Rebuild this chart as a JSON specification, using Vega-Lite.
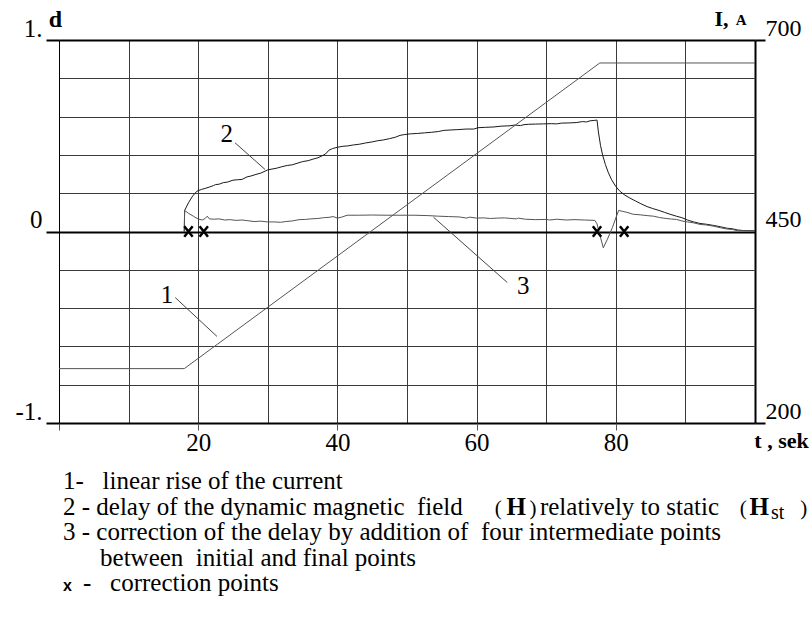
{
  "$schema": "https://vega.github.io/schema/vega-lite/v6.json",
  "width": 696,
  "height": 383,
  "autosize": {"type": "none"},
  "padding": {"left": 59, "top": 40, "right": 56, "bottom": 201},
  "background": "white",
  "config": {"view": {"stroke": null}},
  "datasets": {
    "current": [
      {"t": 0, "I": 271}, {"t": 18, "I": 271}, {"t": 77.7, "I": 670}, {"t": 100, "I": 670}
    ],
    "delay": [
      {"t":18,"d":0},{"t":18.05,"d":0.11},{"t":18.6,"d":0.15},{"t":19.2,"d":0.185},{"t":19.8,"d":0.21},{"t":20.5,"d":0.22},{"t":21,"d":0.225},{"t":21.6,"d":0.232},{"t":22.2,"d":0.24},{"t":22.5,"d":0.245},{"t":23,"d":0.247},{"t":23.6,"d":0.255},{"t":24.2,"d":0.258},{"t":25,"d":0.268},{"t":25.6,"d":0.27},{"t":26.3,"d":0.272},{"t":27,"d":0.285},{"t":27.6,"d":0.29},{"t":28.3,"d":0.298},{"t":29,"d":0.305},{"t":29.6,"d":0.315},{"t":30,"d":0.322},{"t":30.6,"d":0.326},{"t":31.2,"d":0.33},{"t":32,"d":0.338},{"t":32.8,"d":0.345},{"t":33.5,"d":0.348},{"t":34.2,"d":0.356},{"t":35,"d":0.365},{"t":35.8,"d":0.37},{"t":36.5,"d":0.378},{"t":37.2,"d":0.385},{"t":37.8,"d":0.395},{"t":38.3,"d":0.405},{"t":38.8,"d":0.425},{"t":39.3,"d":0.433},{"t":40,"d":0.44},{"t":40.8,"d":0.445},{"t":41.5,"d":0.447},{"t":42.3,"d":0.452},{"t":43.2,"d":0.456},{"t":44,"d":0.462},{"t":45,"d":0.468},{"t":45.8,"d":0.474},{"t":46.6,"d":0.478},{"t":47.5,"d":0.485},{"t":48.3,"d":0.492},{"t":49,"d":0.502},{"t":49.6,"d":0.506},{"t":50.5,"d":0.51},{"t":51.5,"d":0.512},{"t":52.5,"d":0.515},{"t":53.5,"d":0.518},{"t":54.5,"d":0.522},{"t":55.3,"d":0.528},{"t":56.2,"d":0.53},{"t":57.3,"d":0.532},{"t":58.5,"d":0.535},{"t":59.6,"d":0.535},{"t":60.2,"d":0.542},{"t":61.3,"d":0.544},{"t":62.5,"d":0.546},{"t":63.5,"d":0.55},{"t":64.8,"d":0.552},{"t":65.5,"d":0.556},{"t":66.3,"d":0.553},{"t":66.8,"d":0.558},{"t":67.5,"d":0.56},{"t":68.5,"d":0.561},{"t":69.6,"d":0.562},{"t":70.8,"d":0.563},{"t":71.5,"d":0.562},{"t":72.2,"d":0.566},{"t":73.3,"d":0.567},{"t":74.4,"d":0.569},{"t":75.2,"d":0.574},{"t":75.8,"d":0.572},{"t":76.3,"d":0.578},{"t":76.9,"d":0.58},{"t":77.3,"d":0.582},{"t":77.5,"d":0.52},{"t":77.8,"d":0.45},{"t":78.1,"d":0.4},{"t":78.5,"d":0.35},{"t":78.9,"d":0.31},{"t":79.4,"d":0.27},{"t":80,"d":0.235},{"t":80.6,"d":0.21},{"t":81.3,"d":0.19},{"t":82,"d":0.175},{"t":82.8,"d":0.16},{"t":83.6,"d":0.145},{"t":84.5,"d":0.13},{"t":85.3,"d":0.12},{"t":86.2,"d":0.11},{"t":87,"d":0.1},{"t":87.8,"d":0.09},{"t":88.7,"d":0.08},{"t":89.5,"d":0.072},{"t":90.3,"d":0.06},{"t":91.2,"d":0.05},{"t":92.1,"d":0.042},{"t":93,"d":0.038},{"t":94,"d":0.032},{"t":95,"d":0.025},{"t":96,"d":0.017},{"t":96.8,"d":0.014},{"t":97.5,"d":0.008},{"t":98.3,"d":0.005},{"t":100,"d":0.004}
    ],
    "correction": [
      {"t":18,"d":0},{"t":18.05,"d":0.11},{"t":18.6,"d":0.095},{"t":19.3,"d":0.08},{"t":20,"d":0.065},{"t":20.6,"d":0.06},{"t":21,"d":0.068},{"t":21.3,"d":0.08},{"t":21.6,"d":0.066},{"t":22.3,"d":0.064},{"t":23,"d":0.066},{"t":23.8,"d":0.06},{"t":24.6,"d":0.062},{"t":25.4,"d":0.058},{"t":26.3,"d":0.06},{"t":27,"d":0.057},{"t":28,"d":0.052},{"t":29,"d":0.054},{"t":30,"d":0.05},{"t":31,"d":0.05},{"t":31.8,"d":0.048},{"t":32.6,"d":0.052},{"t":33.5,"d":0.055},{"t":34.5,"d":0.062},{"t":35.4,"d":0.063},{"t":36.2,"d":0.066},{"t":37.2,"d":0.068},{"t":38,"d":0.072},{"t":38.8,"d":0.074},{"t":39.4,"d":0.078},{"t":40,"d":0.07},{"t":40.6,"d":0.075},{"t":41.4,"d":0.085},{"t":43,"d":0.085},{"t":45,"d":0.086},{"t":47,"d":0.085},{"t":49,"d":0.085},{"t":51,"d":0.085},{"t":53,"d":0.083},{"t":54.5,"d":0.08},{"t":56,"d":0.078},{"t":57.5,"d":0.076},{"t":58.6,"d":0.07},{"t":59,"d":0.075},{"t":60,"d":0.07},{"t":61,"d":0.071},{"t":62,"d":0.068},{"t":63,"d":0.07},{"t":64,"d":0.071},{"t":65.7,"d":0.066},{"t":66,"d":0.07},{"t":67,"d":0.064},{"t":68.5,"d":0.062},{"t":70,"d":0.063},{"t":70.5,"d":0.06},{"t":71.5,"d":0.064},{"t":72.9,"d":0.06},{"t":74,"d":0.062},{"t":75.5,"d":0.06},{"t":77,"d":0.058},{"t":77.3,"d":0.04},{"t":77.8,"d":-0.03},{"t":78.2,"d":-0.085},{"t":78.8,"d":-0.04},{"t":79.5,"d":0.02},{"t":80.1,"d":0.08},{"t":80.4,"d":0.11},{"t":81,"d":0.105},{"t":81.6,"d":0.1},{"t":82.5,"d":0.09},{"t":83.5,"d":0.087},{"t":84.5,"d":0.083},{"t":85.4,"d":0.08},{"t":86.3,"d":0.073},{"t":87.2,"d":0.068},{"t":88,"d":0.065},{"t":88.7,"d":0.063},{"t":89.5,"d":0.055},{"t":90.3,"d":0.05},{"t":91.2,"d":0.045},{"t":92.1,"d":0.037},{"t":93,"d":0.034},{"t":94,"d":0.028},{"t":95,"d":0.02},{"t":95.8,"d":0.014},{"t":96.8,"d":0.01},{"t":97.5,"d":0.004},{"t":100,"d":0.004}
    ],
    "points": [
      {"t": 18.6, "d": 0}, {"t": 20.8, "d": 0}, {"t": 77.3, "d": 0}, {"t": 81.2, "d": 0}
    ],
    "labels": [
      {"t": 24.1, "d": 0.507, "label": "2"},
      {"t": 15.5, "d": -0.33, "label": "1"},
      {"t": 66.7, "d": -0.287, "label": "3"}
    ],
    "leaders": [
      {"t": 25.3, "d": 0.463, "t2": 29.6, "d2": 0.324},
      {"t": 16.7, "d": -0.345, "t2": 22.7, "d2": -0.548},
      {"t": 53.8, "d": 0.075, "t2": 64.4, "d2": -0.266}
    ],
    "unit": [{"text": "A"}],
    "legend": [
      {"line": 1, "part": "a", "text": "1-\u00a0\u00a0\u00a0linear rise of the current"},
      {"line": 2, "part": "a", "text": "2 - delay of the dynamic magnetic\u00a0 field"},
      {"line": 3, "part": "a", "text": "3 - correction of the delay by addition of\u00a0 four intermediate points"},
      {"line": 4, "part": "b", "text": "between\u00a0 initial and final points"},
      {"line": 5, "part": "c", "text": "x"},
      {"line": 5, "part": "d", "text": "-\u00a0\u00a0\u00a0correction points"},
      {"line": 2, "part": "e", "text": "("},
      {"line": 2, "part": "f", "text": "H"},
      {"line": 2, "part": "g", "text": ")"},
      {"line": 2, "part": "h", "text": "relatively to static"},
      {"line": 2, "part": "i", "text": "("},
      {"line": 2, "part": "j", "text": "H"},
      {"line": 2, "part": "k", "text": "st"},
      {"line": 2, "part": "l", "text": ")"}
    ]
  },
  "layer": [
    {
      "data": {"name": "delay"},
      "mark": {"type": "line", "color": "#1a1a1a", "strokeWidth": 1},
      "encoding": {
        "x": {
          "field": "t", "type": "quantitative", "title": "t , sek",
          "scale": {"domain": [0, 100], "nice": false, "zero": false},
          "axis": {
            "orient": "bottom",
            "values": [0, 10, 20, 30, 40, 50, 60, 70, 80, 90, 100],
            "grid": true,
            "gridColor": {"condition": {"test": "datum.value == 0 || datum.value == 100", "value": "black"}, "value": "#3a3a3a"},
            "gridWidth": {"condition": {"test": "datum.value == 100", "value": 2}, "value": 1},
            "domain": false,
            "ticks": true, "tickSize": 7, "tickColor": "#555", "tickWidth": 1,
            "tickOpacity": {"condition": {"test": "datum.value % 20 == 0 && datum.value < 100", "value": 1}, "value": 0},
            "labelExpr": "datum.value > 0 && datum.value < 100 && datum.value % 20 == 0 ? datum.label : ''",
            "labelFont": "Liberation Serif", "labelFontSize": 25, "labelColor": "black",
            "labelBaseline": "alphabetic", "labelPadding": 20,
            "labelOverlap": false, "labelBound": false, "labelFlush": false,
            "titleFont": "Liberation Serif", "titleFontWeight": "bold", "titleFontSize": 22, "titleColor": "black",
            "titleX": 722, "titleY": 24, "titleAlign": "center", "titleBaseline": "alphabetic"
          }
        },
        "y": {
          "field": "d", "type": "quantitative", "title": "d",
          "scale": {"domain": [-1, 1], "nice": false, "zero": false},
          "axis": {
            "orient": "left",
            "values": [-1, -0.8, -0.6, -0.4, -0.2, 0, 0.2, 0.4, 0.6, 0.8, 1],
            "grid": true,
            "gridColor": {"condition": {"test": "abs(datum.value) < 0.01 || abs(datum.value) > 0.99", "value": "black"}, "value": "#3a3a3a"},
            "gridWidth": {"condition": {"test": "abs(datum.value) < 0.01 || abs(datum.value) > 0.99", "value": 2}, "value": 1},
            "domain": true, "domainColor": "black", "domainWidth": 1,
            "ticks": true, "tickSize": 13, "tickWidth": 2, "tickColor": "black",
            "tickOpacity": {"condition": {"test": "abs(datum.value) < 0.01 || abs(datum.value) > 0.99", "value": 1}, "value": 0},
            "labelExpr": "abs(datum.value) < 0.01 ? '0\u00a0\u00a0' : datum.value > 0.99 ? '1.' : datum.value < -0.99 ? '-1.' : ''",
            "labelFont": "Liberation Serif", "labelFontSize": 25, "labelColor": "black",
            "labelBaseline": "alphabetic", "labelOffset": -4, "labelPadding": 4,
            "labelOverlap": false, "labelBound": false, "labelFlush": false,
            "titleAngle": 0, "titleFont": "Liberation Serif", "titleFontWeight": "bold", "titleFontSize": 24, "titleColor": "black",
            "titleX": -4, "titleY": -14, "titleAlign": "center", "titleBaseline": "alphabetic"
          }
        }
      }
    },
    {
      "data": {"name": "correction"},
      "mark": {"type": "line", "color": "#555", "strokeWidth": 1},
      "encoding": {
        "x": {"field": "t", "type": "quantitative", "axis": null},
        "y": {"field": "d", "type": "quantitative", "scale": {"domain": [-1, 1], "nice": false, "zero": false}, "axis": null}
      }
    },
    {
      "data": {"name": "leaders"},
      "mark": {"type": "rule", "color": "#444", "strokeWidth": 1},
      "encoding": {
        "x": {"field": "t", "type": "quantitative", "axis": null},
        "y": {"field": "d", "type": "quantitative", "scale": {"domain": [-1, 1], "nice": false, "zero": false}, "axis": null},
        "x2": {"field": "t2"},
        "y2": {"field": "d2"}
      }
    },
    {
      "data": {"name": "labels"},
      "mark": {"type": "text", "font": "Liberation Serif", "fontSize": 25, "color": "black", "align": "center", "baseline": "middle"},
      "encoding": {
        "x": {"field": "t", "type": "quantitative", "axis": null},
        "y": {"field": "d", "type": "quantitative", "scale": {"domain": [-1, 1], "nice": false, "zero": false}, "axis": null},
        "text": {"field": "label"}
      }
    },
    {
      "data": {"name": "points"},
      "mark": {"type": "point", "shape": "M-0.8,-1L0.8,1M0.8,-1L-0.8,1", "filled": false, "stroke": "black", "strokeWidth": 2.5, "size": 110, "opacity": 1},
      "encoding": {
        "x": {"field": "t", "type": "quantitative", "axis": null},
        "y": {"field": "d", "type": "quantitative", "scale": {"domain": [-1, 1], "nice": false, "zero": false}, "axis": null}
      }
    },
    {
      "data": {"name": "current"},
      "mark": {"type": "line", "color": "#555", "strokeWidth": 1},
      "encoding": {
        "x": {"field": "t", "type": "quantitative", "axis": null},
        "y": {
          "field": "I", "type": "quantitative", "title": "I,",
          "scale": {"domain": [200, 700], "nice": false, "zero": false},
          "axis": {
            "orient": "right",
            "values": [200, 450, 700],
            "grid": false, "domain": false,
            "ticks": true, "tickSize": 10, "tickWidth": 2, "tickColor": "black",
            "tickOpacity": {"condition": {"test": "datum.value == 450", "value": 0}, "value": 1},
            "labelFont": "Liberation Serif", "labelFontSize": 24, "labelColor": "black",
            "labelBaseline": "alphabetic", "labelOffset": -5, "labelPadding": 0,
            "labelOverlap": false, "labelBound": false, "labelFlush": false,
            "titleAngle": 0, "titleFont": "Liberation Serif", "titleFontWeight": "bold", "titleFontSize": 22, "titleColor": "black",
            "titleX": -34, "titleY": -15, "titleAlign": "center", "titleBaseline": "alphabetic"
          }
        }
      }
    },
    {
      "data": {"name": "unit"},
      "mark": {"type": "text", "font": "Liberation Serif", "fontWeight": "bold", "fontSize": 15, "color": "black", "align": "center", "baseline": "alphabetic"},
      "encoding": {
        "x": {"datum": 98, "type": "quantitative", "axis": null},
        "y": {"datum": 719.6, "type": "quantitative", "scale": {"domain": [200, 700], "nice": false, "zero": false}, "axis": null},
        "text": {"field": "text"}
      }
    },
    {
      "data": {"name": "legend"},
      "transform": [{"filter": "datum.part == 'a'"}],
      "mark": {"type": "text", "font": "Liberation Serif", "fontSize": 25, "color": "black", "align": "left", "baseline": "alphabetic"},
      "encoding": {
        "x": {"datum": 0.57, "type": "quantitative", "axis": null},
        "y": {"field": "line", "type": "quantitative", "scale": {"domain": [1, 5], "range": [449, 551], "nice": false, "zero": false}, "axis": null},
        "text": {"field": "text"}
      }
    },
    {
      "data": {"name": "legend"},
      "transform": [{"filter": "datum.part == 'b'"}],
      "mark": {"type": "text", "font": "Liberation Serif", "fontSize": 25, "color": "black", "align": "left", "baseline": "alphabetic"},
      "encoding": {
        "x": {"datum": 5.9, "type": "quantitative", "axis": null},
        "y": {"field": "line", "type": "quantitative", "scale": {"domain": [1, 5], "range": [449, 551], "nice": false, "zero": false}, "axis": null},
        "text": {"field": "text"}
      }
    },
    {
      "data": {"name": "legend"},
      "transform": [{"filter": "datum.part == 'c'"}],
      "mark": {"type": "text", "font": "Liberation Sans", "fontWeight": "bold", "fontSize": 16, "color": "black", "align": "left", "baseline": "alphabetic"},
      "encoding": {
        "x": {"datum": 0.57, "type": "quantitative", "axis": null},
        "y": {"field": "line", "type": "quantitative", "scale": {"domain": [1, 5], "range": [449, 551], "nice": false, "zero": false}, "axis": null},
        "text": {"field": "text"}
      }
    },
    {
      "data": {"name": "legend"},
      "transform": [{"filter": "datum.part == 'd'"}],
      "mark": {"type": "text", "font": "Liberation Serif", "fontSize": 25, "color": "black", "align": "left", "baseline": "alphabetic"},
      "encoding": {
        "x": {"datum": 3.45, "type": "quantitative", "axis": null},
        "y": {"field": "line", "type": "quantitative", "scale": {"domain": [1, 5], "range": [449, 551], "nice": false, "zero": false}, "axis": null},
        "text": {"field": "text"}
      }
    },
    {
      "data": {"name": "legend"},
      "transform": [{"filter": "datum.part == 'e'"}],
      "mark": {"type": "text", "font": "Liberation Serif", "fontSize": 21, "color": "black", "align": "left", "baseline": "alphabetic"},
      "encoding": {
        "x": {"datum": 62.6, "type": "quantitative", "axis": null},
        "y": {"field": "line", "type": "quantitative", "scale": {"domain": [1, 5], "range": [449, 551], "nice": false, "zero": false}, "axis": null},
        "text": {"field": "text"}
      }
    },
    {
      "data": {"name": "legend"},
      "transform": [{"filter": "datum.part == 'f'"}],
      "mark": {"type": "text", "font": "Liberation Serif", "fontWeight": "bold", "fontSize": 25, "color": "black", "align": "left", "baseline": "alphabetic"},
      "encoding": {
        "x": {"datum": 64.3, "type": "quantitative", "axis": null},
        "y": {"field": "line", "type": "quantitative", "scale": {"domain": [1, 5], "range": [449, 551], "nice": false, "zero": false}, "axis": null},
        "text": {"field": "text"}
      }
    },
    {
      "data": {"name": "legend"},
      "transform": [{"filter": "datum.part == 'g'"}],
      "mark": {"type": "text", "font": "Liberation Serif", "fontSize": 21, "color": "black", "align": "left", "baseline": "alphabetic"},
      "encoding": {
        "x": {"datum": 67.6, "type": "quantitative", "axis": null},
        "y": {"field": "line", "type": "quantitative", "scale": {"domain": [1, 5], "range": [449, 551], "nice": false, "zero": false}, "axis": null},
        "text": {"field": "text"}
      }
    },
    {
      "data": {"name": "legend"},
      "transform": [{"filter": "datum.part == 'h'"}],
      "mark": {"type": "text", "font": "Liberation Serif", "fontSize": 25, "color": "black", "align": "left", "baseline": "alphabetic"},
      "encoding": {
        "x": {"datum": 69.1, "type": "quantitative", "axis": null},
        "y": {"field": "line", "type": "quantitative", "scale": {"domain": [1, 5], "range": [449, 551], "nice": false, "zero": false}, "axis": null},
        "text": {"field": "text"}
      }
    },
    {
      "data": {"name": "legend"},
      "transform": [{"filter": "datum.part == 'i'"}],
      "mark": {"type": "text", "font": "Liberation Serif", "fontSize": 21, "color": "black", "align": "left", "baseline": "alphabetic"},
      "encoding": {
        "x": {"datum": 97.8, "type": "quantitative", "axis": null},
        "y": {"field": "line", "type": "quantitative", "scale": {"domain": [1, 5], "range": [449, 551], "nice": false, "zero": false}, "axis": null},
        "text": {"field": "text"}
      }
    },
    {
      "data": {"name": "legend"},
      "transform": [{"filter": "datum.part == 'j'"}],
      "mark": {"type": "text", "font": "Liberation Serif", "fontWeight": "bold", "fontSize": 25, "color": "black", "align": "left", "baseline": "alphabetic"},
      "encoding": {
        "x": {"datum": 99.2, "type": "quantitative", "axis": null},
        "y": {"field": "line", "type": "quantitative", "scale": {"domain": [1, 5], "range": [449, 551], "nice": false, "zero": false}, "axis": null},
        "text": {"field": "text"}
      }
    },
    {
      "data": {"name": "legend"},
      "transform": [{"filter": "datum.part == 'k'"}],
      "mark": {"type": "text", "font": "Liberation Serif", "fontSize": 20, "color": "black", "align": "left", "baseline": "alphabetic", "dy": 4},
      "encoding": {
        "x": {"datum": 102.3, "type": "quantitative", "axis": null},
        "y": {"field": "line", "type": "quantitative", "scale": {"domain": [1, 5], "range": [449, 551], "nice": false, "zero": false}, "axis": null},
        "text": {"field": "text"}
      }
    },
    {
      "data": {"name": "legend"},
      "transform": [{"filter": "datum.part == 'l'"}],
      "mark": {"type": "text", "font": "Liberation Serif", "fontSize": 21, "color": "black", "align": "left", "baseline": "alphabetic"},
      "encoding": {
        "x": {"datum": 106.5, "type": "quantitative", "axis": null},
        "y": {"field": "line", "type": "quantitative", "scale": {"domain": [1, 5], "range": [449, 551], "nice": false, "zero": false}, "axis": null},
        "text": {"field": "text"}
      }
    }
  ],
  "resolve": {"scale": {"y": "independent"}, "axis": {"x": "independent", "y": "independent"}}
}
